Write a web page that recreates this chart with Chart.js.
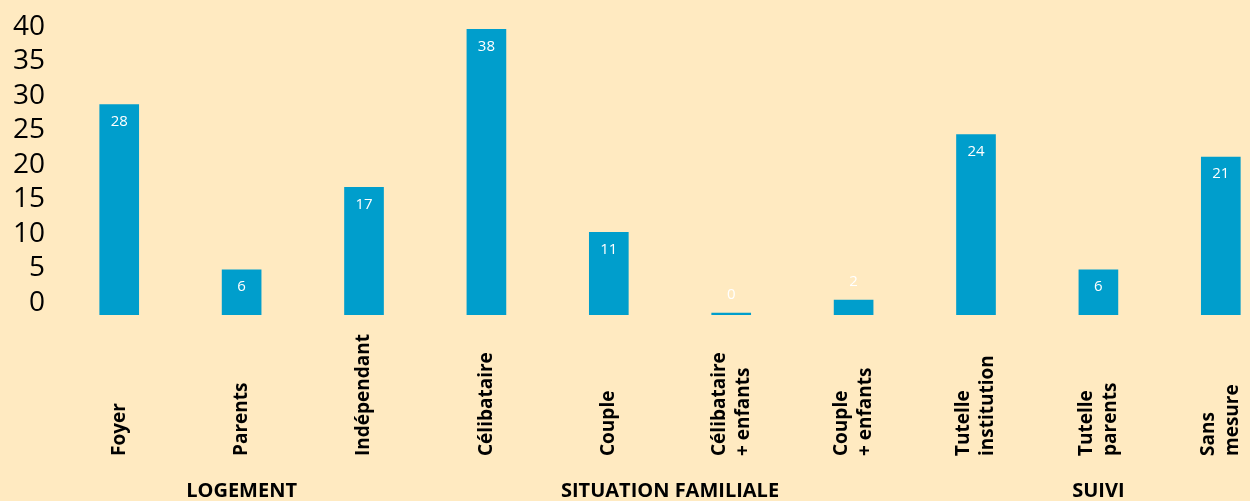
<!DOCTYPE html>
<html lang="fr">
<head>
<meta charset="utf-8">
<title>Profil</title>
<script src="https://cdn.jsdelivr.net/npm/chart.js@4"></script>
<style>
    html, body { margin: 0; padding: 0; background: #FFEAC1; overflow: hidden; }
    #zone { width: 1250px; height: 501px; overflow: hidden; }
    #bar-chart { display: block; }
</style>
</head>
<body>
<div id="zone"><canvas id="bar-chart" width="1290" height="501"></canvas></div>
<script>
// categories (one entry per bar, one string per line of the label)
const categories = [
    ["Foyer"],
    ["Parents"],
    ["Indépendant"],
    ["Célibataire"],
    ["Couple"],
    ["Célibataire", "+ enfants"],
    ["Couple", "+ enfants"],
    ["Tutelle", "institution"],
    ["Tutelle", "parents"],
    ["Sans", "mesure"],
];
const values = [28, 6, 17, 38, 11, 0, 2, 24, 6, 21];
const groups = ["LOGEMENT", "SITUATION FAMILIALE", "SUIVI"];
const groupSizes = [3, 4, 3];
const yTicks = [0, 5, 10, 15, 20, 25, 30, 35, 40];

const BAR_COLOR = "#009ECC";
const FONT = "'Open Sans', sans-serif";

// draws value labels, rotated category labels and group names
const labelsPlugin = {
    id: "labelsPlugin",
    afterDatasetsDraw(chart) {
        const ctx = chart.ctx;
        const meta = chart.getDatasetMeta(0);
        const xScale = chart.scales.x;

        ctx.save();
        ctx.font = "15px " + FONT;
        ctx.fillStyle = "#ffffff";
        ctx.textAlign = "center";
        ctx.textBaseline = "middle";
        meta.data.forEach((bar, i) => {
            let y = values[i] >= 3 ? bar.y + 17 : bar.y - 18;
            ctx.fillText(String(values[i]), bar.x, y);
        });

        ctx.font = "bold 19px " + FONT;
        ctx.fillStyle = "#000000";
        ctx.textAlign = "left";
        categories.forEach((lines, i) => {
            const x = xScale.getPixelForValue(i);
            lines.forEach((line, j) => {
                const cx = x + (j - (lines.length - 1) / 2) * 24;
                ctx.save();
                ctx.translate(cx, 456);
                ctx.rotate(-Math.PI / 2);
                ctx.fillText(line, 0, 0);
                ctx.restore();
            });
        });

        ctx.font = "bold 20px " + FONT;
        ctx.textAlign = "center";
        let start = 0;
        groups.forEach((name, g) => {
            const end = start + groupSizes[g] - 1;
            const x = (xScale.getPixelForValue(start) + xScale.getPixelForValue(end)) / 2;
            ctx.fillText(name, x, 491);
            start = end + 1;
        });
        ctx.restore();
    },
};

function cargaGrafica() {
    Chart.defaults.font.family = FONT;
    new Chart(document.getElementById("bar-chart"), {
        type: "bar",
        data: {
            labels: categories.map((c) => c.join(" ")),
            datasets: [
                {
                    data: values,
                    backgroundColor: BAR_COLOR,
                    barThickness: 39,
                    minBarLength: 2,
                    yAxisID: "y",
                },
            ],
        },
        options: {
            responsive: false,
            animation: false,
            layout: { padding: { left: 0, top: 0, right: 8, bottom: 186 } },
            plugins: {
                legend: { display: false },
                tooltip: { enabled: false },
            },
            scales: {
                x: { display: false },
                y: { display: false, min: 0, max: 40 },
                // tick labels sit a little above the bars' baseline, as in the original
                y2: {
                    position: "left",
                    min: -1.74,
                    max: 41.83,
                    grid: { display: false, drawTicks: false },
                    border: { display: false },
                    afterBuildTicks: (axis) => {
                        axis.ticks = yTicks.map((v) => ({ value: v }));
                    },
                    ticks: {
                        color: "#000000",
                        padding: 13,
                        font: { size: 28, lineHeight: 0.1 },
                    },
                },
            },
        },
        plugins: [labelsPlugin],
    });
}

cargaGrafica();
</script>
</body>
</html>
